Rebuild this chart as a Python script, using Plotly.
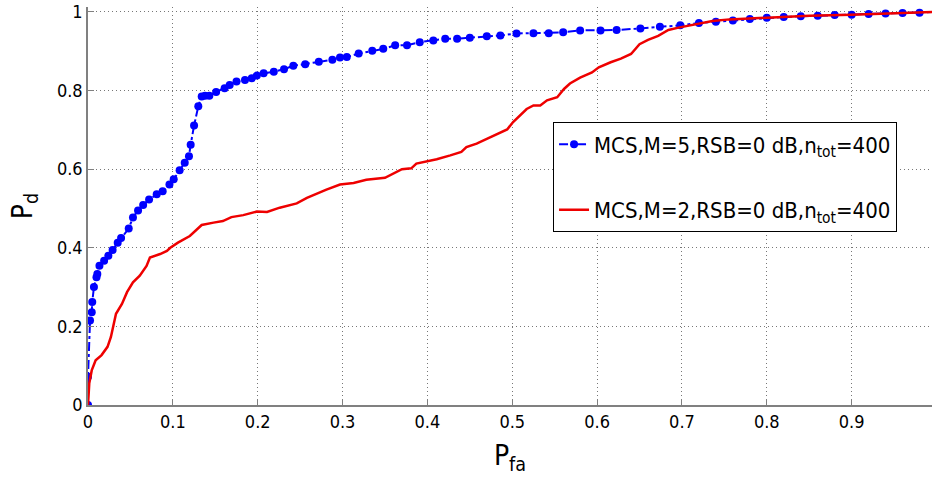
import plotly.graph_objects as go

# ---- data ----
blue_x = [0, 0.0, 0.0024, 0.0044, 0.005, 0.007, 0.010, 0.011, 0.0135, 0.019, 0.024, 0.029, 0.035, 0.039,
          0.048, 0.053, 0.059, 0.065, 0.072, 0.081, 0.088, 0.096, 0.101, 0.108, 0.114, 0.119, 0.121, 0.125,
          0.130, 0.134, 0.138, 0.143, 0.151, 0.161, 0.167, 0.175, 0.185, 0.193, 0.199, 0.207, 0.219, 0.231,
          0.242, 0.256, 0.272, 0.288, 0.297, 0.305, 0.319, 0.335, 0.348, 0.362, 0.376, 0.391, 0.407, 0.421,
          0.435, 0.45, 0.47, 0.486, 0.505, 0.525, 0.543, 0.56, 0.58, 0.604, 0.623, 0.651, 0.674, 0.698, 0.72,
          0.74, 0.76, 0.78, 0.80, 0.82, 0.84, 0.86, 0.88, 0.90, 0.92, 0.94, 0.96, 0.98, 1.0]
blue_y = [0, 0.072, 0.215, 0.236, 0.262, 0.30, 0.325, 0.333, 0.354, 0.367, 0.38, 0.394, 0.413, 0.425,
          0.449, 0.477, 0.495, 0.509, 0.523, 0.536, 0.544, 0.561, 0.574, 0.597, 0.616, 0.633, 0.662, 0.711,
          0.76, 0.785, 0.787, 0.787, 0.796, 0.806, 0.814, 0.823, 0.827, 0.831, 0.838, 0.844, 0.848, 0.854,
          0.863, 0.867, 0.873, 0.878, 0.884, 0.885, 0.894, 0.901, 0.906, 0.915, 0.915, 0.923, 0.927, 0.932,
          0.932, 0.934, 0.938, 0.94, 0.945, 0.946, 0.946, 0.948, 0.953, 0.953, 0.954, 0.958, 0.962, 0.966, 0.972,
          0.975, 0.978, 0.982, 0.985, 0.987, 0.989, 0.99, 0.992, 0.993, 0.995, 0.996, 0.997, 0.998, 1.0]

red_x = [0, 0.0015, 0.0044, 0.009, 0.016, 0.023, 0.027, 0.030, 0.033, 0.040, 0.046, 0.053, 0.061, 0.069,
         0.073, 0.085, 0.093, 0.097, 0.106, 0.120, 0.134, 0.148, 0.159, 0.169, 0.183, 0.199, 0.211, 0.226,
         0.246, 0.258, 0.27, 0.281, 0.297, 0.313, 0.328, 0.35, 0.37, 0.381, 0.387, 0.411, 0.427, 0.44, 0.446,
         0.458, 0.47, 0.482, 0.494, 0.501, 0.517, 0.525, 0.533, 0.541, 0.553, 0.561, 0.568, 0.58, 0.594,
         0.602, 0.616, 0.628, 0.64, 0.65, 0.66, 0.672, 0.684, 0.696, 0.716, 0.736, 0.756, 0.80, 0.85, 0.90,
         0.95, 1.0]
red_y = [0, 0.055, 0.088, 0.114, 0.127, 0.148, 0.173, 0.202, 0.232, 0.257, 0.287, 0.312, 0.329, 0.354,
         0.375, 0.384, 0.392, 0.40, 0.413, 0.43, 0.458, 0.464, 0.468, 0.478, 0.483, 0.492, 0.491, 0.502,
         0.513, 0.527, 0.539, 0.548, 0.561, 0.565, 0.573, 0.578, 0.60, 0.602, 0.614, 0.625, 0.635, 0.644,
         0.656, 0.665, 0.677, 0.69, 0.701, 0.72, 0.753, 0.762, 0.762, 0.775, 0.783, 0.804, 0.818, 0.833,
         0.846, 0.859, 0.872, 0.881, 0.893, 0.918, 0.929, 0.939, 0.954, 0.96, 0.968, 0.977, 0.981, 0.986,
         0.99, 0.993, 0.996, 1.0]

blue_name = "MCS,M=5,RSB=0 dB,n<sub>tot</sub>=400"
red_name = "MCS,M=2,RSB=0 dB,n<sub>tot</sub>=400"
x_ticks = [0, 0.1, 0.2, 0.3, 0.4, 0.5, 0.6, 0.7, 0.8, 0.9]
x_tick_text = ["0", "0.1", "0.2", "0.3", "0.4", "0.5", "0.6", "0.7", "0.8", "0.9"]
y_ticks = [0, 0.2, 0.4, 0.6, 0.8, 1.0]
y_tick_text = ["0", "0.2", "0.4", "0.6", "0.8", "1"]

FONT = "DejaVu Sans Condensed, Liberation Sans Narrow, Roboto, sans-serif"

fig = go.Figure()
fig.add_trace(go.Scatter(
    x=blue_x, y=blue_y, name=blue_name, mode="lines+markers", legendgroup="a",
    line=dict(color="#0000ff", width=2, dash="dashdot"),
    marker=dict(color="#0000ff", size=8, symbol="circle"),
))
fig.add_trace(go.Scatter(
    x=red_x, y=red_y, name=red_name, mode="lines", legendgroup="b",
    line=dict(color="#ee0000", width=2.5),
))

axis_common = dict(
    showline=True, linecolor="#808080", linewidth=1.5,
    ticks="inside", ticklen=6, tickcolor="#808080",
    showgrid=True, gridcolor="#777777", griddash="1px,3px", gridwidth=1,
    zeroline=False, tickfont=dict(family=FONT, size=18, color="#000"),
    automargin=False, ticklabeloverflow="allow",
)

fig.update_layout(
    width=933, height=484,
    margin=dict(l=88, r=1, t=7, b=79),
    paper_bgcolor="white", plot_bgcolor="white",
    font=dict(family=FONT, color="#000"),
    showlegend=True,
    legend=dict(
        x=0.551, y=0.71, xanchor="left", yanchor="top",
        bgcolor="white", bordercolor="#000", borderwidth=1,
        font=dict(family=FONT, size=22, color="#000"),
        tracegroupgap=34,
    ),
    xaxis=dict(
        range=[0, 0.9947], tickvals=x_ticks, ticktext=x_tick_text,
        title=dict(text="P<sub>fa</sub>", font=dict(family=FONT, size=28), standoff=14),
        **axis_common,
    ),
    yaxis=dict(
        range=[0, 1.0125], tickvals=y_ticks, ticktext=y_tick_text,
        title=dict(text="P<sub>d</sub>", font=dict(family=FONT, size=28), standoff=16),
        **axis_common,
    ),
)

fig.write_html("out.html", post_script="document.body.style.margin='0';",
               config={"displayModeBar": False})
